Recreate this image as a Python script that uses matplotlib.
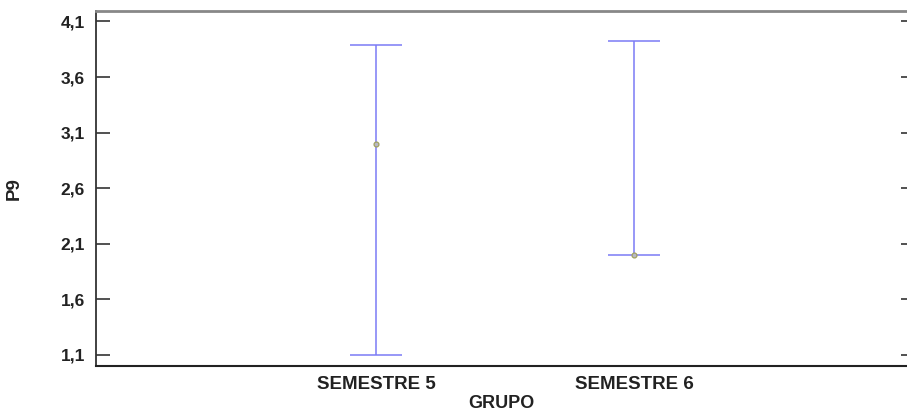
import matplotlib
matplotlib.use("Agg")
import matplotlib.pyplot as plt

plt.rcParams["font.family"] = ["Liberation Sans", "DejaVu Sans"]

groups = ["SEMESTRE 5", "SEMESTRE 6"]
means = [3.0, 2.0]
lower = [1.1, 2.0]
upper = [3.89, 3.925]
yticks = [1.1, 1.6, 2.1, 2.6, 3.1, 3.6, 4.1]

fig = plt.figure(figsize=(9.07, 4.16), dpi=100)
ax = fig.add_axes([96 / 907, 50 / 416, 1 - 96 / 907, 355 / 416])

pos = [1, 2]
err = [[m - lo for m, lo in zip(means, lower)], [hi - m for m, hi in zip(means, upper)]]
ax.errorbar(pos, means, yerr=err, fmt="none", ecolor="#7b7bf5", elinewidth=1.1,
            capsize=18.5, capthick=1.1)
ax.plot(pos, means, "o", ms=3.5, mfc="#b8b8c8", mec="#a0a060", mew=0.9, zorder=3)

fs = 12.5
fx = 13.5
ax.set_xlim(-0.085, 3.058)
ax.set_ylim(1.0, 4.194)
ax.set_xticks(pos)
ax.set_xticklabels(groups, fontsize=fx, fontweight="bold", color="#222222")
ax.set_yticks(yticks)
ax.set_yticklabels([f"{v:.1f}".replace(".", ",") for v in yticks],
                   fontsize=fs, fontweight="bold", color="#222222")
ax.tick_params(axis="x", length=0, pad=7)
ax.tick_params(axis="y", direction="in", length=10, width=1.2, left=True, right=True,
               color="#333333", pad=8)
for t in ax.yaxis.get_major_ticks():
    t.tick2line.set_markersize(4)

ax.set_ylabel("P9", fontsize=fx, fontweight="bold", labelpad=27, color="#222222")
ax.set_xlabel("GRUPO", fontsize=13, fontweight="bold", labelpad=1.5, color="#222222")

ax.spines["top"].set_color("#888888")
ax.spines["top"].set_linewidth(2)
ax.spines["bottom"].set_color("#222222")
ax.spines["bottom"].set_linewidth(1.5)
ax.spines["left"].set_color("#333333")
ax.spines["left"].set_linewidth(1.3)
ax.spines["right"].set_visible(False)

fig.savefig("out.png", dpi=100)
